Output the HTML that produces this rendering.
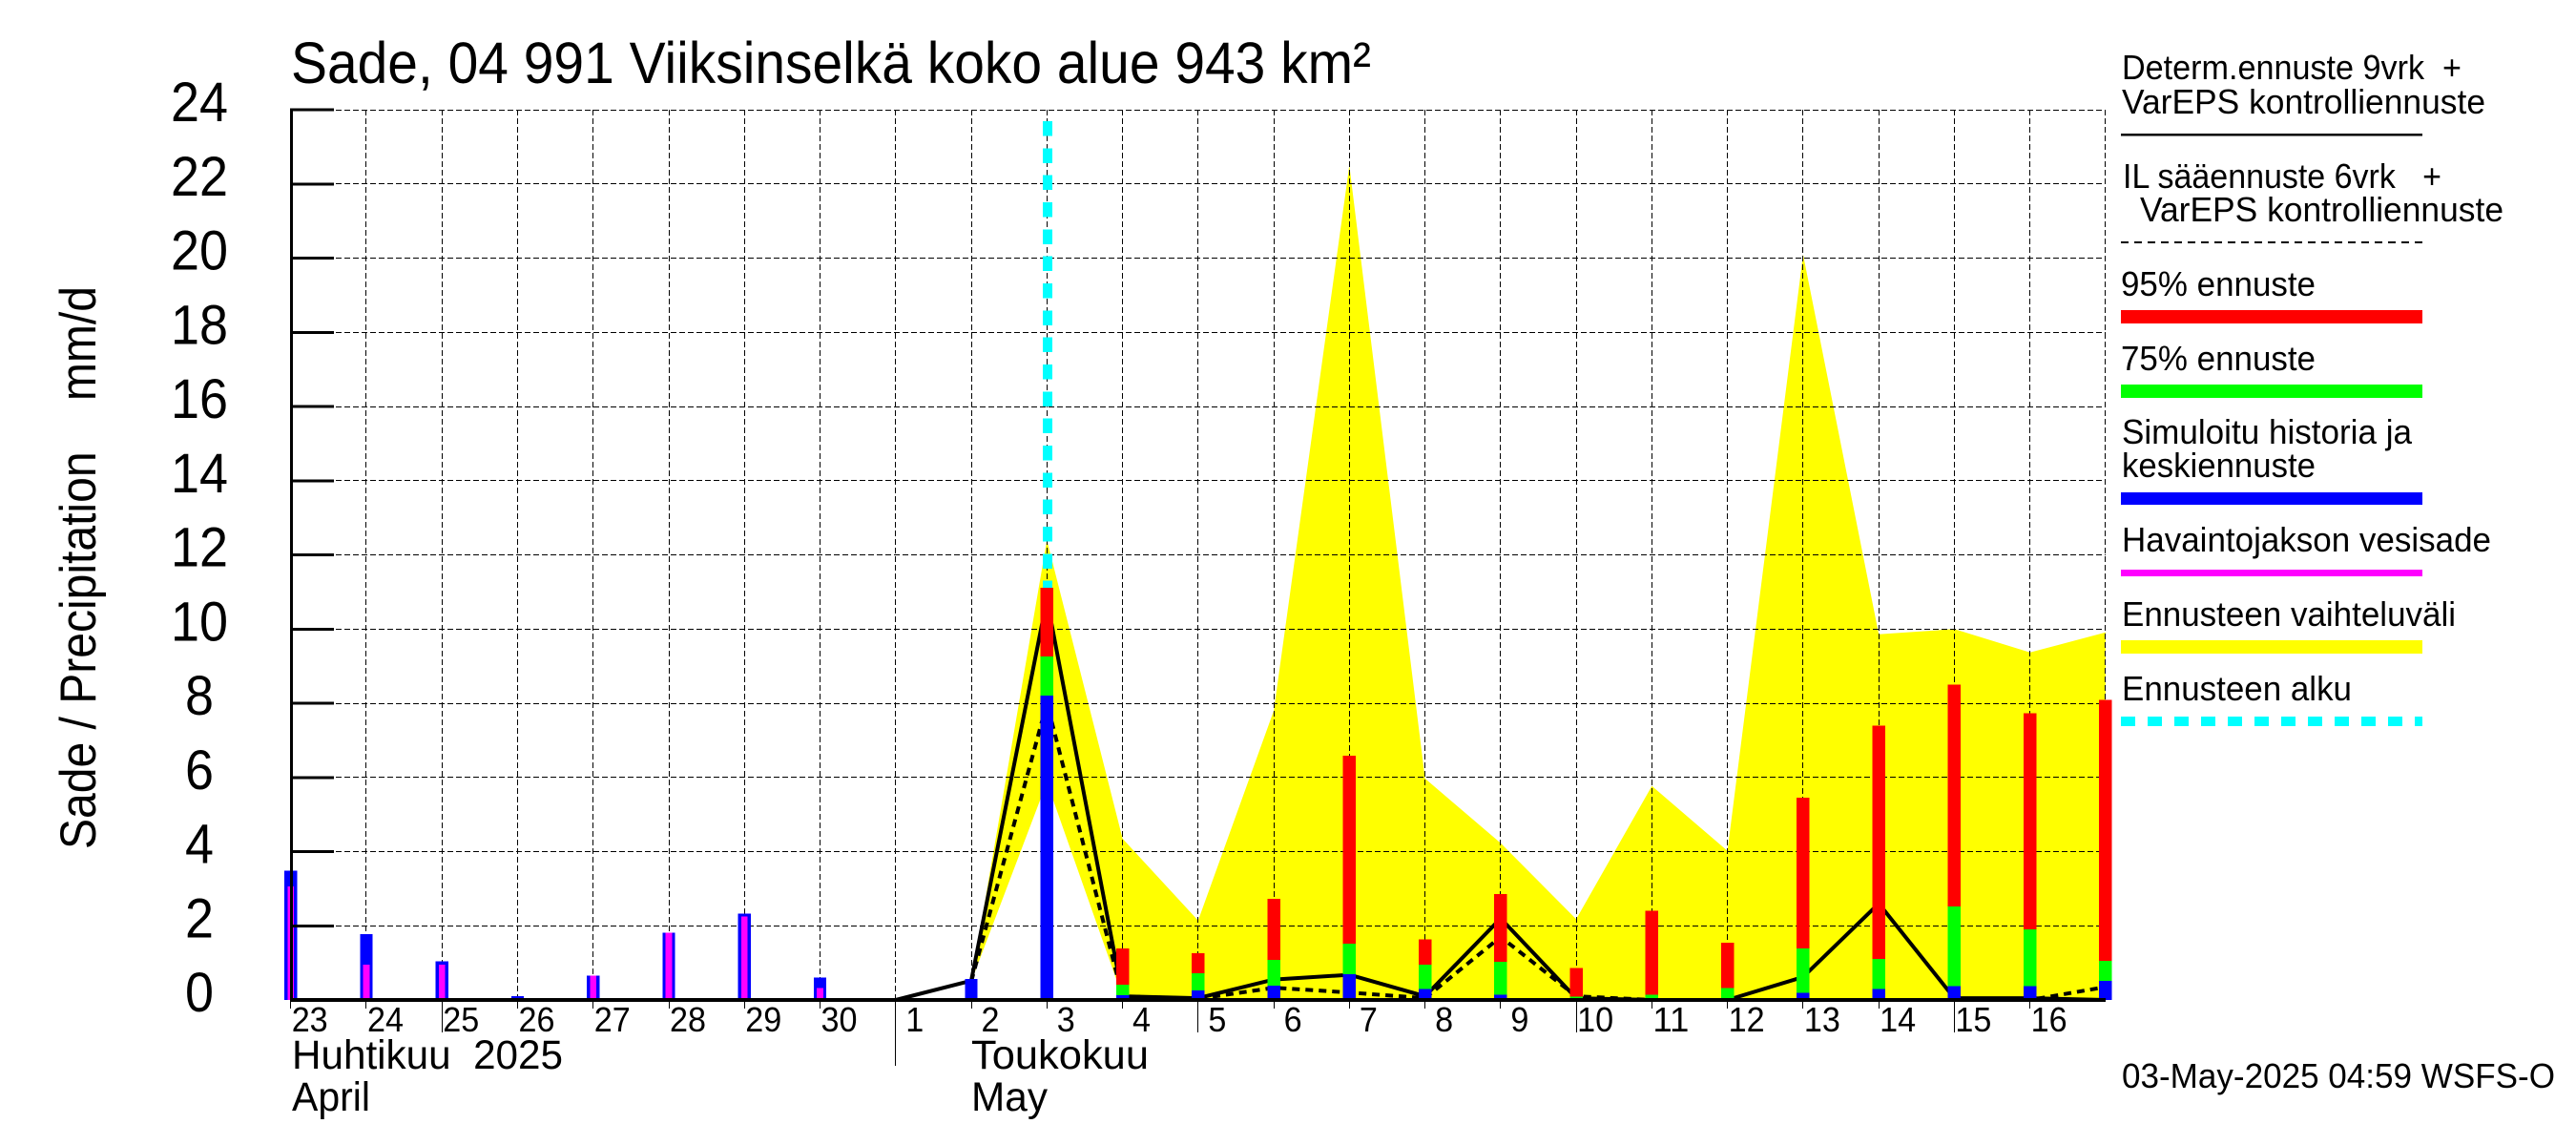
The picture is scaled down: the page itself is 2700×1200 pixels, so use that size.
<!DOCTYPE html>
<html lang="fi">
<head>
<meta charset="utf-8">
<title>Sade, 04 991 Viiksinselkä koko alue 943 km²</title>
<style>
html,body{margin:0;padding:0;background:#fff;width:2700px;height:1200px;overflow:hidden}
svg{display:block}
text{font-family:"Liberation Sans",Arial,sans-serif;fill:#000;white-space:pre}
.lg{font-size:36px}
.mth{font-size:43px}
.xl{font-size:36px}
.yl{font-size:58px}
</style>
</head>
<body>
<svg id="chart" xmlns="http://www.w3.org/2000/svg" width="2700" height="1200" viewBox="0 0 2700 1200">
  <rect x="0" y="0" width="2700" height="1200" fill="#fff"/>
  <g id="plot"></g>

  <text x="305" y="87" font-size="61" textLength="1132" lengthAdjust="spacingAndGlyphs">Sade, 04 991 Viiksinselkä koko alue 943 km²</text>
  <text transform="translate(100,890) rotate(-90)" font-size="53" textLength="590" lengthAdjust="spacingAndGlyphs">Sade / Precipitation    mm/d</text>

  <text class="mth" x="306" y="1120" textLength="284" lengthAdjust="spacingAndGlyphs">Huhtikuu  2025</text>
  <text class="mth" x="306" y="1164" textLength="82" lengthAdjust="spacingAndGlyphs">April</text>
  <text class="mth" x="1018" y="1120" textLength="186" lengthAdjust="spacingAndGlyphs">Toukokuu</text>
  <text class="mth" x="1018" y="1164" textLength="80" lengthAdjust="spacingAndGlyphs">May</text>

  <g shape-rendering="crispEdges">
    <text class="lg" x="2224" y="83" textLength="356" lengthAdjust="spacingAndGlyphs">Determ.ennuste 9vrk  +</text>
    <text class="lg" x="2224" y="119" textLength="381" lengthAdjust="spacingAndGlyphs">VarEPS kontrolliennuste</text>
    <rect x="2223" y="140" width="316" height="2.4" fill="#000"/>
    <text class="lg" x="2225" y="197" textLength="334" lengthAdjust="spacingAndGlyphs">IL sääennuste 6vrk   +</text>
    <text class="lg" x="2243" y="232" textLength="381" lengthAdjust="spacingAndGlyphs">VarEPS kontrolliennuste</text>
    <line x1="2223" x2="2539" y1="254" y2="254" stroke="#000" stroke-width="2.4" stroke-dasharray="8 6"/>
    <text class="lg" x="2223" y="310" textLength="204" lengthAdjust="spacingAndGlyphs">95% ennuste</text>
    <rect x="2223" y="325" width="316" height="14" fill="#f00"/>
    <text class="lg" x="2223" y="388" textLength="204" lengthAdjust="spacingAndGlyphs">75% ennuste</text>
    <rect x="2223" y="403" width="316" height="14" fill="#0f0"/>
    <text class="lg" x="2224" y="465" textLength="304" lengthAdjust="spacingAndGlyphs">Simuloitu historia ja</text>
    <text class="lg" x="2224" y="500" textLength="203" lengthAdjust="spacingAndGlyphs">keskiennuste</text>
    <rect x="2223" y="516" width="316" height="13" fill="#00f"/>
    <text class="lg" x="2224" y="578" textLength="387" lengthAdjust="spacingAndGlyphs">Havaintojakson vesisade</text>
    <rect x="2223" y="597" width="316" height="7" fill="#f0f"/>
    <text class="lg" x="2224" y="656" textLength="350" lengthAdjust="spacingAndGlyphs">Ennusteen vaihteluväli</text>
    <rect x="2223" y="671" width="316" height="14" fill="#ff0"/>
    <text class="lg" x="2224" y="734" textLength="241" lengthAdjust="spacingAndGlyphs">Ennusteen alku</text>
    <line x1="2223" x2="2539" y1="756" y2="756" stroke="#0ff" stroke-width="10" stroke-dasharray="15 13"/>
  </g>

  <text class="lg" x="2224" y="1140" textLength="454" lengthAdjust="spacingAndGlyphs">03-May-2025 04:59 WSFS-O</text>
</svg>
<script>
// Days on the x axis (index 0 = 23 April, index 24 = right edge, 17 May)
const dayLabels = ['23','24','25','26','27','28','29','30','1','2','3','4','5','6','7','8','9','10','11','12','13','14','15','16'];
const longTickLabels = ['25','1','5','10','15'];
const yTickValues = [0,2,4,6,8,10,12,14,16,18,20,22,24];

// Simulated history and median forecast (blue), one value per day
const simulated = [3.49,1.77,1.04,0.10,0.66,1.82,2.33,0.61,0.03,0.56,8.21,0.13,0.26,0.38,0.69,0.30,0.14,0.03,0.03,0.03,0.19,0.29,0.37,0.37,0.52];
// Observed precipitation (magenta)
const observed = [3.06,0.95,0.95,0,0.66,1.82,2.25,0.32,0.03];
// Forecast quantiles, first value belongs to 3 May
const forecast95 = [11.11,1.39,1.26,2.73,6.58,1.64,2.85,0.86,2.40,1.55,5.45,7.40,8.50,7.73,8.09];
const forecast75 = [9.26,0.41,0.72,1.08,1.52,0.95,1.03,0.09,0.14,0.32,1.39,1.11,2.52,1.91,1.06];
// Forecast range band, first value belongs to 2 May
const rangeUpper = [0.5,12.4,4.35,2.14,7.8,22.5,5.97,4.23,2.18,5.77,4.02,20.1,9.86,10.0,9.37,9.91];
const rangeLower = [0.5,5.87,0.08,0,0,0,0,0,0,0,0,0,0,0,0,0];
// Deterministic forecast (solid), first value belongs to 1 May
const determForecast = [0,0.52,10.8,0.1,0.05,0.55,0.68,0.1,2.2,0.05,0,0,0.62,2.6,0.05,0.05,0];
// IL weather forecast (dashed), first value belongs to 2 May
const ilForecast = [0.5,8.0,0.1,0.03,0.33,0.2,0.05,1.7,0.1,0,0,0,0,0,0,0.35];
const forecastStartDay = 10;

const rangeStart = 9, determStart = 8, ilStart = 9, quantileStart = 10;

const NS = 'http://www.w3.org/2000/svg';
const plot = document.getElementById('plot');
const xScale = function (i) { return 304.7 + 79.26 * i; };
const yScale = function (v) { return 1048 - 38.87 * v; };
const lastIndex = simulated.length - 1;

function make(tag, attrs, parent) {
  const el = document.createElementNS(NS, tag);
  for (const k in attrs) el.setAttribute(k, attrs[k]);
  (parent || plot).appendChild(el);
  return el;
}
function pts(values, start) {
  return values.map(function (v, i) { return xScale(start + i).toFixed(1) + ',' + yScale(v).toFixed(1); }).join(' ');
}
const snap = function (p) { return Math.floor(p) + 0.5; };

// Yellow range band
const lowerBack = rangeLower.map(function (v, i) { return xScale(rangeStart + i).toFixed(1) + ',' + yScale(v).toFixed(1); }).reverse().join(' ');
const band = make('polygon', { points: pts(rangeUpper, rangeStart) + ' ' + lowerBack, fill: '#ff0' });



// Grid
yTickValues.forEach(function (v) {
  if (v === 0) return;
  const g = make('line', { x1: 352, x2: xScale(lastIndex), y1: snap(yScale(v)), y2: snap(yScale(v)), stroke: '#000', 'stroke-width': 1, 'stroke-dasharray': '6 3', 'shape-rendering': 'crispEdges' });
  
  
});
for (let i = 1; i <= lastIndex; i++) {
  const g = make('line', { x1: snap(xScale(i)), x2: snap(xScale(i)), y1: yScale(24), y2: yScale(0), stroke: '#000', 'stroke-width': 1, 'stroke-dasharray': '6 3', 'shape-rendering': 'crispEdges' });
  
  
}

// Forecast start marker
const startLine = make('line', { x1: xScale(forecastStartDay) + 0.7, x2: xScale(forecastStartDay) + 0.7, y1: 127, y2: 1048, stroke: '#0ff', 'stroke-width': 10, 'stroke-dasharray': '15.5 12.83', 'shape-rendering': 'crispEdges' });



// Forecast lines
const solid = make('polyline', { points: pts(determForecast, determStart), fill: 'none', stroke: '#000', 'stroke-width': 4, 'stroke-linejoin': 'round' });


const dashed = make('polyline', { points: pts(ilForecast, ilStart), fill: 'none', stroke: '#000', 'stroke-width': 4, 'stroke-dasharray': '8 6' });



// Bars
function bar(i, value, width, fill) {
  const x = xScale(i), top = yScale(value);
  return make('rect', { x: (x - width / 2).toFixed(1), y: top.toFixed(1), width: width, height: (yScale(0) - top).toFixed(1), fill: fill, 'shape-rendering': 'crispEdges' });
}
forecast95.forEach(function (v, k) {
  const r = bar(quantileStart + k, v, 13.4, '#f00');
  
  
  const g = bar(quantileStart + k, forecast75[k], 13.4, '#0f0');
  
  
});
simulated.forEach(function (v, i) {
  const b = bar(i, v, 13.4, '#00f');
  
  
});
observed.forEach(function (v, i) {
  if (v <= 0) return;
  const m = bar(i, v, 6.6, '#f0f');
  
  
});

// Axes
const yAxis = make('line', { x1: 305.5, x2: 305.5, y1: yScale(24) - 1.5, y2: yScale(0) + 2, stroke: '#000', 'stroke-width': 3, 'shape-rendering': 'crispEdges' });


const xAxis = make('line', { x1: 305, x2: xScale(lastIndex), y1: 1048, y2: 1048, stroke: '#000', 'stroke-width': 4, 'shape-rendering': 'crispEdges' });



yTickValues.forEach(function (v) {
  const t = make('line', { x1: 305, x2: 350, y1: yScale(v), y2: yScale(v), stroke: '#000', 'stroke-width': 3, 'shape-rendering': 'crispEdges' });
  
  
  const s = String(v);
  const l = make('text', { class: 'yl', x: 209, y: yScale(v) + 12, 'text-anchor': 'middle', textLength: s.length === 2 ? 60 : 30, lengthAdjust: 'spacingAndGlyphs' });
  l.textContent = s;
  
  
});

dayLabels.forEach(function (d, i) {
  let bottom = 1057;
  if (longTickLabels.indexOf(d) >= 0) bottom = d === '1' ? 1117 : 1082;
  const t = make('line', { x1: snap(xScale(i)), x2: snap(xScale(i)), y1: 1048, y2: bottom, stroke: '#000', 'stroke-width': 1, 'shape-rendering': 'crispEdges' });
  
  
  const l = make('text', { class: 'xl', x: xScale(i) + 20, y: 1081, 'text-anchor': 'middle', textLength: d.length === 2 ? 38 : 19, lengthAdjust: 'spacingAndGlyphs' });
  l.textContent = d;
  
  
});
</script>
</body>
</html>
